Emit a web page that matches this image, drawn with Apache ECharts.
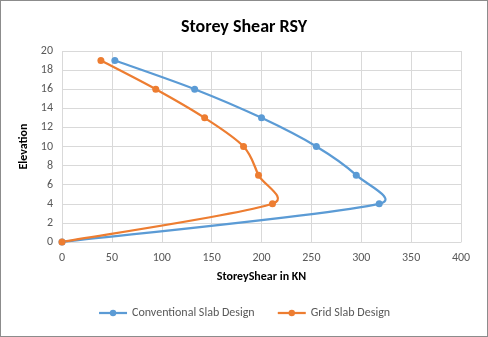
<!DOCTYPE html>
<html>
<head>
<meta charset="utf-8">
<script src="https://cdn.jsdelivr.net/npm/echarts@6/dist/echarts.min.js"></script>
<style>
  html, body { margin: 0; padding: 0; background: #fff; }
  #frame { position: absolute; left: 0; top: 0; width: 486px; height: 335px; border: 1px solid #8c8c8c; }
  #chart { width: 486px; height: 335px; }
</style>
</head>
<body>
<div id="frame"><div id="chart"></div></div>
<script>
// Storey elevations (shared by both designs)
const elevations = [0, 4, 7, 10, 13, 16, 19];
// Storey shear in KN
const conventionalShear = [0, 318, 295, 255, 200, 133, 53];
const gridShear = [0, 211, 197, 182, 143, 94, 39];
const seriesNames = ['Conventional Slab Design', 'Grid Slab Design'];
const seriesColors = ['#5b9bd5', '#ed7d31'];

const pairs = (xs) => xs.map((x, i) => [x, elevations[i]]);
const font = 'Calibri, Carlito, "Liberation Sans", sans-serif';

// Smoothed path through pixel points: Catmull-Rom style tangents (1/6 of the
// neighbour chord), with each handle capped relative to its own segment length.
function smoothPath(pts) {
  const n = pts.length;
  const cap = 0.55;
  const cpIn = [], cpOut = [];
  for (let i = 0; i < n; i++) {
    const p = pts[i];
    const a = pts[Math.max(i - 1, 0)], b = pts[Math.min(i + 1, n - 1)];
    const vx = b[0] - a[0], vy = b[1] - a[1];
    const vLen = Math.hypot(vx, vy) || 1;
    const ux = vx / vLen, uy = vy / vLen;
    const dPrev = Math.hypot(p[0] - a[0], p[1] - a[1]);
    const dNext = Math.hypot(b[0] - p[0], b[1] - p[1]);
    const lIn = Math.min(vLen / 6, cap * dPrev);
    const lOut = Math.min(vLen / 6, cap * dNext);
    cpIn.push([p[0] - ux * lIn, p[1] - uy * lIn]);
    cpOut.push([p[0] + ux * lOut, p[1] + uy * lOut]);
  }
  let d = 'M' + pts[0][0] + ' ' + pts[0][1];
  for (let i = 0; i < n - 1; i++) {
    d += ' C' + cpOut[i][0] + ' ' + cpOut[i][1] + ' ' +
         cpIn[i + 1][0] + ' ' + cpIn[i + 1][1] + ' ' +
         pts[i + 1][0] + ' ' + pts[i + 1][1];
  }
  return d;
}

function curveSeries(xs, color) {
  return {
    type: 'custom',
    coordinateSystem: 'cartesian2d',
    silent: true,
    z: 1,
    data: [[xs[0], elevations[0]]],
    renderItem: function (params, api) {
      const pts = pairs(xs).map((pt) => api.coord(pt));
      return {
        type: 'path',
        shape: { pathData: smoothPath(pts) },
        style: { fill: null, stroke: color, lineWidth: 2.25, lineJoin: 'round', lineCap: 'round' }
      };
    }
  };
}

function markerSeries(name, xs, color) {
  return {
    name: name, type: 'line',
    data: pairs(xs),
    z: 3,
    symbol: 'circle', symbolSize: 7,
    itemStyle: { color: color },
    lineStyle: { width: 2.25, color: color, opacity: 0 }
  };
}

const chart = echarts.init(document.getElementById('chart'), null, { renderer: 'canvas' });
chart.setOption({
  animation: false,
  textStyle: { fontFamily: font },
  title: {
    text: 'Storey Shear RSY',
    left: 'center',
    top: 12,
    textStyle: { fontFamily: font, fontSize: 18, fontWeight: 'bold', color: '#000' }
  },
  grid: { left: 61, right: 26, top: 50, bottom: 94 },
  xAxis: {
    type: 'value', min: 0, max: 400, interval: 50,
    name: 'StoreyShear in KN', nameLocation: 'middle', nameGap: 29,
    nameTextStyle: { fontFamily: font, fontSize: 12, fontWeight: 'bold', color: '#000' },
    axisLine: { show: true, lineStyle: { color: '#d9d9d9' } },
    axisTick: { show: false },
    axisLabel: { color: '#595959', fontSize: 12, margin: 10 },
    splitLine: { show: true, lineStyle: { color: '#d9d9d9' } }
  },
  yAxis: {
    type: 'value', min: 0, max: 20, interval: 2,
    name: 'Elevation', nameLocation: 'middle', nameGap: 23, nameRotate: 90,
    nameTextStyle: { fontFamily: font, fontSize: 12, fontWeight: 'bold', color: '#000' },
    axisLine: { show: false },
    axisTick: { show: false },
    axisLabel: { color: '#595959', fontSize: 12, margin: 9 },
    splitLine: { show: true, lineStyle: { color: '#d9d9d9' } }
  },
  legend: {
    bottom: 12, left: 'center',
    itemWidth: 28, itemHeight: 8, itemGap: 22,
    textStyle: { fontFamily: font, fontSize: 12, color: '#595959' },
    data: seriesNames.map((name, i) => ({
      name: name,
      lineStyle: { color: seriesColors[i], width: 2.25, opacity: 1 }
    }))
  },
  series: [
    curveSeries(conventionalShear, seriesColors[0]),
    curveSeries(gridShear, seriesColors[1]),
    markerSeries(seriesNames[0], conventionalShear, seriesColors[0]),
    markerSeries(seriesNames[1], gridShear, seriesColors[1])
  ]
});
</script>
</body>
</html>
